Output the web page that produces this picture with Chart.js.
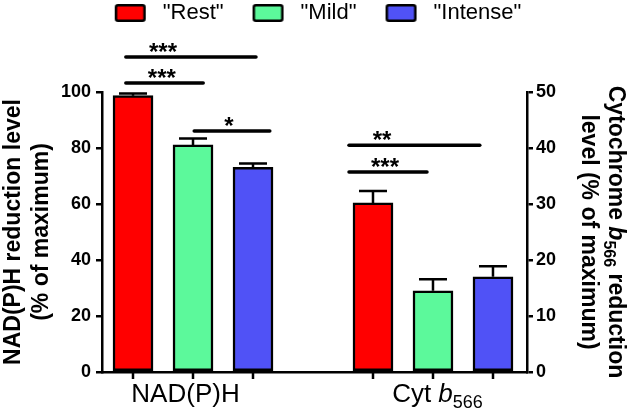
<!DOCTYPE html>
<html><head><meta charset="utf-8">
<script src="https://cdn.jsdelivr.net/npm/chart.js@4.4.0/dist/chart.umd.min.js"></script>
<style>html,body{margin:0;padding:0;background:#fff;}#wrap{width:633px;height:416px;position:relative;}</style>
</head><body><div id="wrap"><canvas id="c"></canvas></div>
<script>
// ---------- data ----------
const seriesNames = ['"Rest"', '"Mild"', '"Intense"'];
const seriesColors = ['#ff0000', '#5cf99b', '#5052f6'];
const groupLabels = ['NAD(P)H', 'Cyt b566'];
const groupLabelX = [0.875, 5.075];
const nadX = [0, 1, 2];
const cytX = [4, 5, 6];
const nadValues = [98.7, 81.1, 73.1];
const nadErrors = [0.8, 2.3, 1.4];
const cytValues = [30.2, 14.5, 17.0];
const cytErrors = [2.1, 2.05, 1.9];
const leftTicks = [0, 20, 40, 60, 80, 100];
const rightTicks = [0, 10, 20, 30, 40, 50];
const sigAxis = ['y', 'y', 'y', 'y2', 'y2'];
const sigFrom = [-0.12, -0.12, 1.02, 3.6, 3.6];
const sigTo = [2.05, 1.17, 2.28, 5.78, 4.9];
const sigLevel = [112.5, 103.2, 86.1, 40.5, 35.7];
const sigLabelX = [0.5, 0.48, 1.6, 4.15, 4.2];
const sigLabels = ['***', '***', '*', '**', '***'];

const FONT = '"Liberation Sans", Arial, sans-serif';

function boxImage(color) {
  const cv = document.createElement('canvas');
  cv.width = 64; cv.height = 18;
  const g = cv.getContext('2d');
  g.fillStyle = color;
  g.strokeStyle = '#000';
  g.lineWidth = 2.5;
  g.beginPath();
  if (g.roundRect) g.roundRect(28.25, 1.25, 28.5, 15.5, 2); else g.rect(28.25, 1.25, 28.5, 15.5);
  g.fill(); g.stroke();
  return cv;
}
const boxImgs = seriesColors.map(boxImage);

const datasets = [];
for (let i = 0; i < 3; i++) {
  const common = { label: seriesNames[i], backgroundColor: seriesColors[i], borderColor: '#000',
    borderWidth: 2.5, borderSkipped: false, barThickness: 40, grouped: false };
  datasets.push(Object.assign({}, common, { data: [{ x: nadX[i], y: nadValues[i] }], err: [nadErrors[i]], yAxisID: 'y' }));
  datasets.push(Object.assign({}, common, { data: [{ x: cytX[i], y: cytValues[i] }], err: [cytErrors[i]], yAxisID: 'y2' }));
}

function drawRich(ctx, segs, x, y, angle) {
  ctx.save();
  ctx.translate(x, y);
  ctx.rotate(angle);
  ctx.textBaseline = 'alphabetic';
  ctx.textAlign = 'left';
  let w = 0;
  segs.forEach(s => { ctx.font = s.f; w += ctx.measureText(s.t).width; });
  let cx = -w / 2;
  segs.forEach(s => { ctx.font = s.f; ctx.fillText(s.t, cx, s.dy || 0); cx += ctx.measureText(s.t).width; });
  ctx.restore();
}

const extras = {
  id: 'extras',
  afterDatasetsDraw(chart) {
    const ctx = chart.ctx;
    ctx.save();
    ctx.strokeStyle = '#000';
    ctx.fillStyle = '#000';
    // error bars
    chart.data.datasets.forEach((ds, di) => {
      const meta = chart.getDatasetMeta(di);
      const sc = chart.scales[ds.yAxisID];
      meta.data.forEach((bar, j) => {
        const top = sc.getPixelForValue(ds.data[j].y + ds.err[j]);
        ctx.lineWidth = 2.5;
        ctx.lineCap = 'butt';
        ctx.beginPath();
        ctx.moveTo(bar.x, bar.y);
        ctx.lineTo(bar.x, top);
        ctx.moveTo(bar.x - 14, top);
        ctx.lineTo(bar.x + 14, top);
        ctx.stroke();
      });
    });
    // x-axis tick marks at each bar position
    const xs = chart.scales.x;
    const bottom = chart.chartArea.bottom;
    ctx.lineWidth = 2.5;
    nadX.concat(cytX).forEach(v => {
      const px = Math.round(xs.getPixelForValue(v));
      ctx.beginPath();
      ctx.moveTo(px, bottom);
      ctx.lineTo(px, bottom + 7);
      ctx.stroke();
    });
    // significance lines
    ctx.lineWidth = 3.5;
    ctx.lineCap = 'round';
    ctx.textAlign = 'center';
    ctx.textBaseline = 'alphabetic';
    ctx.font = 'bold 24px ' + FONT;
    for (let k = 0; k < sigLabels.length; k++) {
      const ys = chart.scales[sigAxis[k]];
      const py = ys.getPixelForValue(sigLevel[k]);
      ctx.beginPath();
      ctx.moveTo(xs.getPixelForValue(sigFrom[k]), py);
      ctx.lineTo(xs.getPixelForValue(sigTo[k]), py);
      ctx.stroke();
      ctx.fillText(sigLabels[k], xs.getPixelForValue(sigLabelX[k]), py + 3);
    }
    ctx.restore();
  },
  afterDraw(chart) {
    const ctx = chart.ctx;
    const xs = chart.scales.x;
    const ca = chart.chartArea;
    const cy = (ca.top + ca.bottom) / 2;
    ctx.save();
    ctx.fillStyle = '#000';
    const B = 'bold 23px ' + FONT;
    // left title
    drawRich(ctx, [{ t: 'NAD(P)H reduction level', f: B }], 20, cy, -Math.PI / 2);
    drawRich(ctx, [{ t: '(% of maximum)', f: B }], 48, cy, -Math.PI / 2);
    // right title
    drawRich(ctx, [{ t: 'Cytochrome ', f: B }, { t: 'b', f: 'italic ' + B }, { t: '566', f: 'bold 16px ' + FONT, dy: 5 }, { t: ' reduction', f: B }], 609, cy, Math.PI / 2);
    drawRich(ctx, [{ t: 'level (% of maximum)', f: B }], 582, cy, Math.PI / 2);
    // group labels
    const R = '26px ' + FONT;
    drawRich(ctx, [{ t: groupLabels[0], f: R }], xs.getPixelForValue(groupLabelX[0]), 402, 0);
    const parts = groupLabels[1].split(' ');
    drawRich(ctx, [{ t: parts[0] + ' ', f: R }, { t: parts[1].charAt(0), f: 'italic ' + R }, { t: parts[1].slice(1), f: '18px ' + FONT, dy: 6 }], xs.getPixelForValue(groupLabelX[1]), 402, 0);
    ctx.restore();
  }
};

new Chart(document.getElementById('c'), {
  type: 'bar',
  data: { datasets },
  plugins: [extras],
  options: {
    responsive: true,
    maintainAspectRatio: false,
    animation: false,
    layout: { padding: { top: 0, left: 0, right: 24, bottom: 0 } },
    plugins: {
      tooltip: { enabled: false },
      subtitle: {
        display: true, text: ' ', position: 'top', weight: 500,
        font: { size: 10, lineHeight: 1 }, padding: { top: 0, bottom: 48 }
      },
      legend: {
        position: 'top', align: 'center',
        labels: {
          usePointStyle: true, pointStyleWidth: 64, padding: 2, color: '#000',
          font: { family: FONT, size: 22 },
          generateLabels: () => seriesNames.map((n, i) => ({
            text: n, pointStyle: boxImgs[i], fillStyle: seriesColors[i], strokeStyle: '#000',
            lineWidth: 0, hidden: false, datasetIndex: i * 2, fontColor: '#000'
          }))
        }
      }
    },
    scales: {
      x: {
        type: 'linear', min: -0.517, max: 6.567, offset: false,
        ticks: { display: false },
        grid: { display: false },
        border: { display: true, color: '#000', width: 2.5 },
        afterFit: s => { s.height = 44; }
      },
      y: {
        type: 'linear', position: 'left', min: 0, max: 100,
        afterBuildTicks: s => { s.ticks = leftTicks.map(v => ({ value: v })); },
        ticks: { color: '#000', font: { family: FONT, size: 18, weight: 'bold' }, padding: 5 },
        grid: { drawOnChartArea: false, tickLength: 6, color: '#000', lineWidth: 2.5 },
        border: { display: true, color: '#000', width: 2.5 },
        afterFit: s => { s.width = 102; }
      },
      y2: {
        type: 'linear', position: 'right', min: 0, max: 50,
        afterBuildTicks: s => { s.ticks = rightTicks.map(v => ({ value: v })); },
        ticks: { color: '#000', font: { family: FONT, size: 18, weight: 'bold' }, padding: 3 },
        grid: { drawOnChartArea: false, tickLength: 6, color: '#000', lineWidth: 2.5 },
        border: { display: true, color: '#000', width: 2.5 },
        afterFit: s => { s.width = 82; }
      }
    }
  }
});
</script></body></html>
